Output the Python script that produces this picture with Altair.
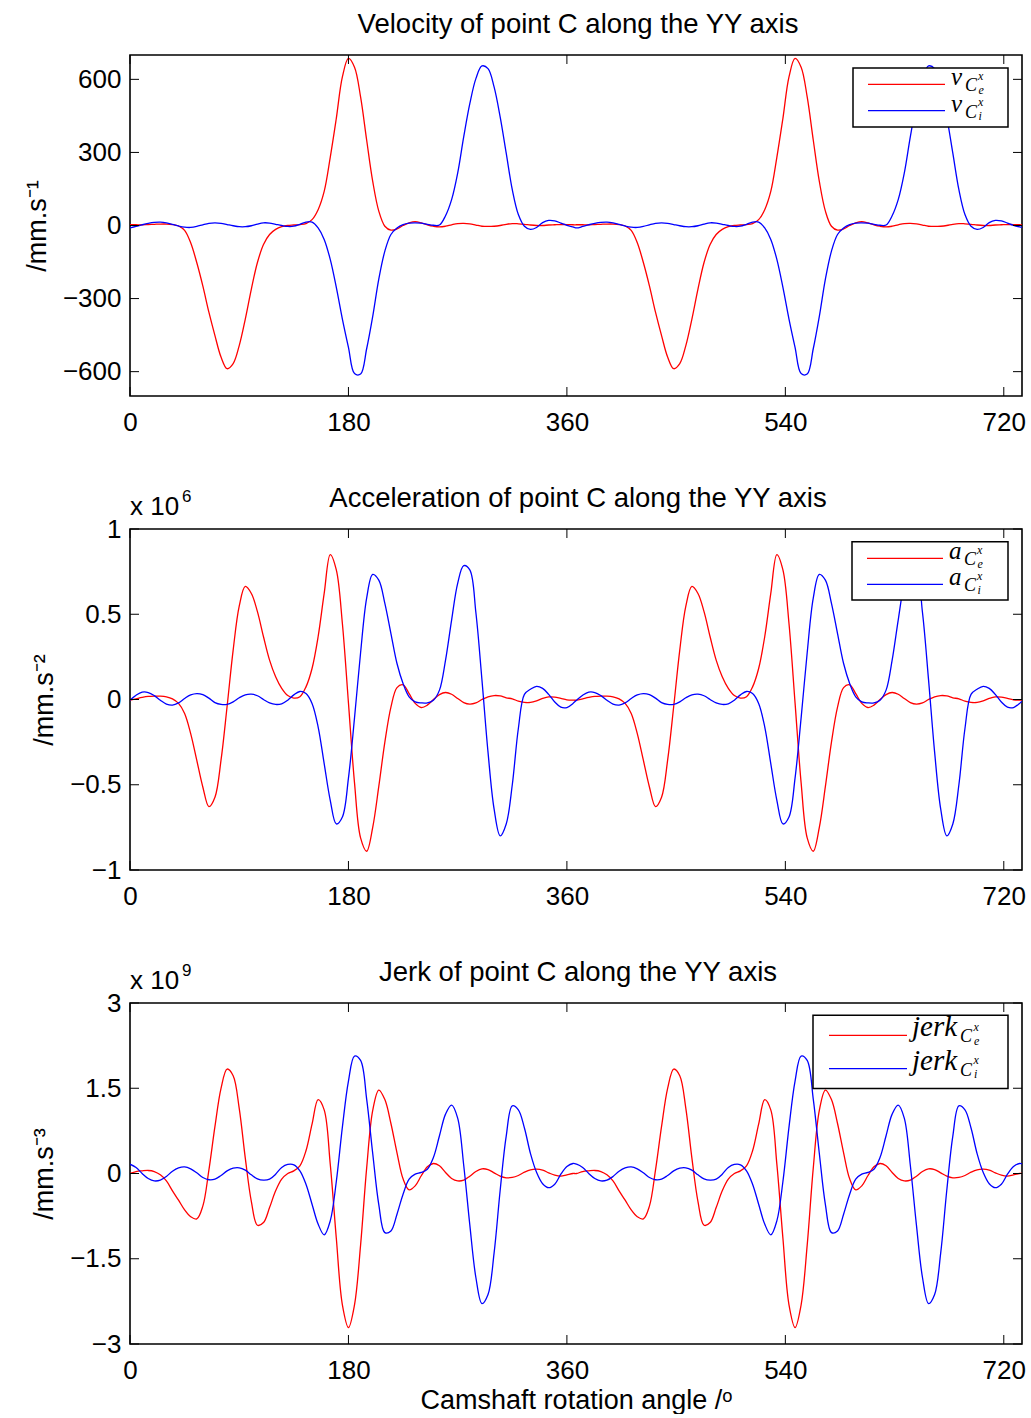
import altair as alt
import pandas as pd

# ---------------- data ----------------
# sampling grid (degrees): first cam cycle, second cam cycle (shifted ~368 deg)
angle_1 = list(range(0, 366, 5))
angle_2 = list(range(368, 734, 5)) + [735]

# Velocity /mm.s^-1 : exhaust (e, red) and intake (i, blue)
ve_1 = [3, 3, 3, 4, 5, 6, 6, 4, -2, -20,
        -71, -152, -248, -356, -452, -540, -588, -567, -493, -384,
        -261, -152, -78, -37, -16, -5, 0, 2, 4, 8,
        24, 65, 140, 280, 440, 610, 686, 650, 528, 351,
        181, 59, -3, -19, -14, 0, 11, 16, 11, 3,
        -3, -6, -3, 3, 8, 9, 7, 2, -3, -4,
        -3, 0, 5, 8, 7, 5, 2, 0, 0, 2,
        3, 4, 4, 3]
ve_2 = [3, 3, 3, 4, 5, 6, 6, 4, -2, -20,
        -71, -152, -248, -356, -452, -540, -588, -567, -493, -384,
        -261, -152, -78, -37, -16, -5, 0, 2, 4, 8,
        24, 65, 140, 280, 440, 610, 686, 650, 528, 351,
        181, 59, -3, -19, -14, 0, 11, 16, 11, 3,
        -3, -6, -3, 3, 8, 9, 7, 2, -3, -4,
        -3, 0, 5, 8, 7, 5, 2, 0, 0, 2,
        3, 4, 4, 3, 3]
vi_1 = [-10, -4, 3, 9, 13, 14, 11, 5, -2, -7,
        -8, -4, 3, 9, 11, 9, 4, -1, -5, -5,
        -1, 6, 11, 10, 5, 0, -4, -3, 5, 14,
        14, -10, -57, -139, -254, -384, -500, -608, -610, -506,
        -373, -220, -105, -37, -10, 4, 10, 11, 10, 5,
        1, 2, 40, 106, 215, 365, 500, 603, 655, 644,
        569, 446, 297, 147, 45, -3, -16, -8, 12, 21,
        19, 10, 1, -6]
vi_2 = [-10, -4, 3, 9, 13, 14, 11, 5, -2, -7,
        -8, -4, 3, 9, 11, 9, 4, -1, -5, -5,
        -1, 6, 11, 10, 5, 0, -4, -3, 5, 14,
        14, -10, -57, -139, -254, -384, -500, -608, -610, -506,
        -373, -220, -105, -37, -10, 4, 10, 11, 10, 5,
        1, 2, 40, 106, 215, 365, 500, 603, 655, 644,
        569, 446, 297, 147, 45, -3, -16, -8, 12, 21,
        19, 10, 1, -6, -8]

# Acceleration /mm.s^-2 (x 10^6)
ae_1 = [-0.004, 0.004, 0.012, 0.018, 0.02, 0.02, 0.016, 0.004, -0.023, -0.082,
        -0.2, -0.356, -0.513, -0.628, -0.573, -0.356, -0.041, 0.29, 0.548, 0.663,
        0.622, 0.515, 0.368, 0.231, 0.133, 0.065, 0.023, 0.008, 0.016, 0.074,
        0.182, 0.368, 0.622, 0.85, 0.76, 0.446, -0.02, -0.489, -0.812, -0.89,
        -0.75, -0.51, -0.25, -0.045, 0.07, 0.086, 0.035, -0.023, -0.047, -0.033,
        0.0, 0.029, 0.041, 0.031, 0.006, -0.018, -0.027, -0.02, 0.0, 0.016,
        0.023, 0.021, 0.01, 0.004, -0.01, -0.017, -0.017, -0.008, 0.006, 0.015,
        0.014, 0.006, -0.002, -0.004]
ae_2 = [-0.004, 0.004, 0.012, 0.018, 0.02, 0.02, 0.016, 0.004, -0.023, -0.082,
        -0.2, -0.356, -0.513, -0.628, -0.573, -0.356, -0.041, 0.29, 0.548, 0.663,
        0.622, 0.515, 0.368, 0.231, 0.133, 0.065, 0.023, 0.008, 0.016, 0.074,
        0.182, 0.368, 0.622, 0.85, 0.76, 0.446, -0.02, -0.489, -0.812, -0.89,
        -0.75, -0.51, -0.25, -0.045, 0.07, 0.086, 0.035, -0.023, -0.047, -0.033,
        0.0, 0.029, 0.041, 0.031, 0.006, -0.018, -0.027, -0.02, 0.0, 0.016,
        0.023, 0.021, 0.01, 0.004, -0.01, -0.017, -0.017, -0.008, 0.006, 0.015,
        0.014, 0.006, -0.002, -0.004, -0.004]
ai_1 = [-0.004, 0.025, 0.043, 0.041, 0.023, -0.004, -0.027, -0.033, -0.02, 0.006,
        0.027, 0.035, 0.029, 0.008, -0.018, -0.029, -0.029, -0.014, 0.01, 0.027,
        0.031, 0.022, 0.0, -0.02, -0.029, -0.025, -0.004, 0.027, 0.047, 0.035,
        -0.023, -0.16, -0.376, -0.591, -0.73, -0.689, -0.461, -0.108, 0.274, 0.595,
        0.734, 0.70, 0.564, 0.387, 0.211, 0.094, 0.016, -0.014, -0.02, -0.02,
        -0.004, 0.055, 0.231, 0.466, 0.681, 0.785, 0.76, 0.51, 0.115, -0.309,
        -0.642, -0.80, -0.73, -0.50, -0.17, 0.03, 0.06, 0.077, 0.065, 0.03,
        -0.015, -0.045, -0.047, -0.023]
ai_2 = [-0.004, 0.025, 0.043, 0.041, 0.023, -0.004, -0.027, -0.033, -0.02, 0.006,
        0.027, 0.035, 0.029, 0.008, -0.018, -0.029, -0.029, -0.014, 0.01, 0.027,
        0.031, 0.022, 0.0, -0.02, -0.029, -0.025, -0.004, 0.027, 0.047, 0.035,
        -0.023, -0.16, -0.376, -0.591, -0.73, -0.689, -0.461, -0.108, 0.274, 0.595,
        0.734, 0.70, 0.564, 0.387, 0.211, 0.094, 0.016, -0.014, -0.02, -0.02,
        -0.004, 0.055, 0.231, 0.466, 0.681, 0.785, 0.76, 0.51, 0.115, -0.309,
        -0.642, -0.80, -0.73, -0.50, -0.17, 0.03, 0.06, 0.077, 0.065, 0.03,
        -0.015, -0.045, -0.047, -0.023, -0.01]

# Jerk /mm.s^-3 (x 10^9)
je_1 = [0.0, 0.035, 0.047, 0.053, 0.035, -0.023, -0.13, -0.305, -0.47, -0.64,
        -0.76, -0.80, -0.575, 0.059, 0.828, 1.497, 1.838, 1.721, 1.145, 0.27,
        -0.493, -0.91, -0.863, -0.6, -0.305, -0.1, 0.0, 0.047, 0.135, 0.4,
        0.869, 1.30, 1.12, 0.164, -1.14, -2.31, -2.71, -2.31, -1.26, 0.094,
        1.11, 1.468, 1.30, 0.88, 0.364, -0.094, -0.288, -0.217, -0.04, 0.117,
        0.176, 0.135, 0.018, -0.088, -0.13, -0.117, -0.047, 0.035, 0.082, 0.07,
        0.012, -0.047, -0.076, -0.07, -0.035, 0.023, 0.065, 0.076, 0.059, 0.012,
        -0.03, -0.047, -0.023, 0.0]
je_2 = [0.0, 0.035, 0.047, 0.053, 0.035, -0.023, -0.13, -0.305, -0.47, -0.64,
        -0.76, -0.80, -0.575, 0.059, 0.828, 1.497, 1.838, 1.721, 1.145, 0.27,
        -0.493, -0.91, -0.863, -0.6, -0.305, -0.1, 0.0, 0.047, 0.135, 0.4,
        0.869, 1.30, 1.12, 0.164, -1.14, -2.31, -2.71, -2.31, -1.26, 0.094,
        1.11, 1.468, 1.30, 0.88, 0.364, -0.094, -0.288, -0.217, -0.04, 0.117,
        0.176, 0.135, 0.018, -0.088, -0.13, -0.117, -0.047, 0.035, 0.082, 0.07,
        0.012, -0.047, -0.076, -0.07, -0.035, 0.023, 0.065, 0.076, 0.059, 0.012,
        -0.03, -0.047, -0.023, 0.0, 0.0]
ji_1 = [0.164, 0.106, 0.0, -0.088, -0.13, -0.117, -0.053, 0.041, 0.1, 0.117,
        0.082, 0.012, -0.07, -0.11, -0.1, -0.035, 0.047, 0.094, 0.1, 0.059,
        -0.023, -0.094, -0.117, -0.1, -0.012, 0.106, 0.159, 0.153, 0.047, -0.188,
        -0.54, -0.89, -1.08, -0.834, -0.141, 0.816, 1.627, 2.067, 1.99, 1.31,
        0.352, -0.546, -1.04, -1.01, -0.716, -0.364, -0.1, -0.012, 0.018, 0.076,
        0.282, 0.664, 1.045, 1.204, 0.975, 0.141, -0.904, -1.83, -2.29, -2.13,
        -1.40, -0.30, 0.658, 1.19, 1.12, 0.80, 0.35, 0.02, -0.18, -0.25,
        -0.188, -0.012, 0.123, 0.176]
ji_2 = [0.164, 0.106, 0.0, -0.088, -0.13, -0.117, -0.053, 0.041, 0.1, 0.117,
        0.082, 0.012, -0.07, -0.11, -0.1, -0.035, 0.047, 0.094, 0.1, 0.059,
        -0.023, -0.094, -0.117, -0.1, -0.012, 0.106, 0.159, 0.153, 0.047, -0.188,
        -0.54, -0.89, -1.08, -0.834, -0.141, 0.816, 1.627, 2.067, 1.99, 1.31,
        0.352, -0.546, -1.04, -1.01, -0.716, -0.364, -0.1, -0.012, 0.018, 0.076,
        0.282, 0.664, 1.045, 1.204, 0.975, 0.141, -0.904, -1.83, -2.29, -2.13,
        -1.40, -0.30, 0.658, 1.19, 1.12, 0.80, 0.35, 0.02, -0.18, -0.25,
        -0.188, -0.012, 0.123, 0.176, 0.17]

x_ticks = [0, 180, 360, 540, 720]
v_ticks = [-600, -300, 0, 300, 600]
a_ticks = [-1, -0.5, 0, 0.5, 1]
j_ticks = [-3, -1.5, 0, 1.5, 3]

titles = ["Velocity of point C along the YY axis",
          "Acceleration of point C along the YY axis",
          "Jerk of point C along the YY axis"]
y_titles = ["/mm.s\u207b\u00b9", "/mm.s\u207b\u00b2", "/mm.s\u207b\u00b3"]
x_title = "Camshaft rotation angle /\u1d52"

# ---------------- styling ----------------
W, H = 892, 341
FONT = "Liberation Sans"
SERIF = "Liberation Serif"
RED, BLUE = "#ff0000", "#0000ff"
ONE = pd.DataFrame({"k": [0]})


def txt(s, x, y, size, font=FONT, italic=False, align="left"):
    kw = dict(text=s, font=font, fontSize=size, align=align,
              baseline="alphabetic", color="black")
    if italic:
        kw["fontStyle"] = "italic"
    return alt.Chart(ONE).mark_text(**kw).encode(x=alt.value(x), y=alt.value(y))


def legend(box, line_x, label_x, main, main_size, rows):
    """box: (x1, x2, y1, y2); rows: (color, line_y, subscript letter)."""
    layers = [alt.Chart(ONE).mark_rect(fill="white", stroke="black", strokeWidth=1.5).encode(
        x=alt.value(box[0]), x2=alt.value(box[1]), y=alt.value(box[2]), y2=alt.value(box[3]))]
    mx, cx, sx = label_x
    for color, ly, sub in rows:
        layers.append(alt.Chart(ONE).mark_rule(color=color, strokeWidth=1.3).encode(
            x=alt.value(line_x[0]), x2=alt.value(line_x[1]), y=alt.value(ly)))
        layers.append(txt(main, mx, ly + 1, main_size, font=SERIF, italic=True))
        layers.append(txt("C", cx, ly + 7, 18, font=SERIF, italic=True))
        layers.append(txt("x", sx, ly - 4.5, 12, font=SERIF, italic=True))
        layers.append(txt(sub, sx + 0.5, ly + 9.5, 12, font=SERIF, italic=True))
    return layers


def panel(e_vals, i_vals, ydom, yticks, ytitle, title, exp_digit, leg, xtitle=None):
    angles = angle_1 + angle_2
    n = len(angles)
    df = pd.DataFrame({"angle": angles + angles,
                       "value": e_vals + i_vals,
                       "series": ["e"] * n + ["i"] * n})
    xkw = dict(values=x_ticks, format="d", labelFont=FONT, labelFontSize=26,
               labelColor="black", labelPadding=13, labelFlush=False,
               domain=False, ticks=False, grid=False)
    if xtitle:
        xkw.update(title=xtitle, titleFont=FONT, titleFontSize=27,
                   titleFontWeight="normal", titleColor="black", titlePadding=4)
    else:
        xkw.update(title=None)
    X = alt.X("angle:Q", scale=alt.Scale(domain=[0, 735], nice=False, zero=False),
              axis=alt.Axis(**xkw))
    Y = alt.Y("value:Q", scale=alt.Scale(domain=ydom, nice=False, zero=False),
              axis=alt.Axis(values=yticks, format=".1~f", labelFont=FONT, labelFontSize=26,
                            labelColor="black", labelPadding=9, domain=False, ticks=False,
                            grid=False, title=ytitle, titleFont=FONT, titleFontSize=27,
                            titleFontWeight="normal", titleColor="black", titlePadding=11))
    lines = alt.Chart(df).mark_line(strokeWidth=1.3, interpolate="catmull-rom", clip=True).encode(
        x=X, y=Y,
        color=alt.Color("series:N", scale=alt.Scale(domain=["e", "i"], range=[RED, BLUE]),
                        legend=None))
    xt = pd.DataFrame({"angle": x_ticks})
    yt = pd.DataFrame({"value": yticks})
    tk = dict(color="black", strokeWidth=1)
    t_bottom = alt.Chart(xt).mark_rule(**tk).encode(x=X, y=alt.value(H - 9), y2=alt.value(H))
    t_top = alt.Chart(xt).mark_rule(**tk).encode(x=X, y=alt.value(0), y2=alt.value(9))
    t_left = alt.Chart(yt).mark_rule(**tk).encode(y=Y, x=alt.value(0), x2=alt.value(9))
    t_right = alt.Chart(yt).mark_rule(**tk).encode(y=Y, x=alt.value(W - 9), x2=alt.value(W))
    layers = [lines, t_bottom, t_top, t_left, t_right]
    layers += legend(*leg)
    layers.append(txt(title, W / 2 + 2, -22, 27.5, align="center"))
    if exp_digit:
        layers.append(txt("x 10", 0, -14, 26))
        layers.append(txt(exp_digit, 52, -27, 17))
    return alt.layer(*layers).properties(width=W, height=H)


leg_v = ((723, 878, 13, 72), (738, 815), (821, 835, 848), "v", 25,
         [(RED, 29.3, "e"), (BLUE, 55.7, "i")])
leg_a = ((722, 878, 12.7, 71), (737, 813), (819, 834, 847), "a", 25,
         [(RED, 29.3, "e"), (BLUE, 55.3, "i")])
leg_j = ((683, 878, 12.3, 85.6), (699, 777), (782, 830, 843.5), "jerk", 29,
         [(RED, 32.3, "e"), (BLUE, 65.6, "i")])

p1 = panel(ve_1 + ve_2, vi_1 + vi_2, [-700, 700], v_ticks, y_titles[0], titles[0], None, leg_v)
p2 = panel(ae_1 + ae_2, ai_1 + ai_2, [-1, 1], a_ticks, y_titles[1], titles[1], "6", leg_a)
p3 = panel(je_1 + je_2, ji_1 + ji_2, [-3, 3], j_ticks, y_titles[2], titles[2], "9", leg_j, xtitle=x_title)

chart = alt.vconcat(p1, p2, p3, spacing=48).properties(
    padding={"left": 22, "top": 10, "right": 0, "bottom": 0},
    background="white",
).configure_view(stroke="black", strokeWidth=1.6)

chart.save("out.html", embed_options={"renderer": "svg", "actions": False})
